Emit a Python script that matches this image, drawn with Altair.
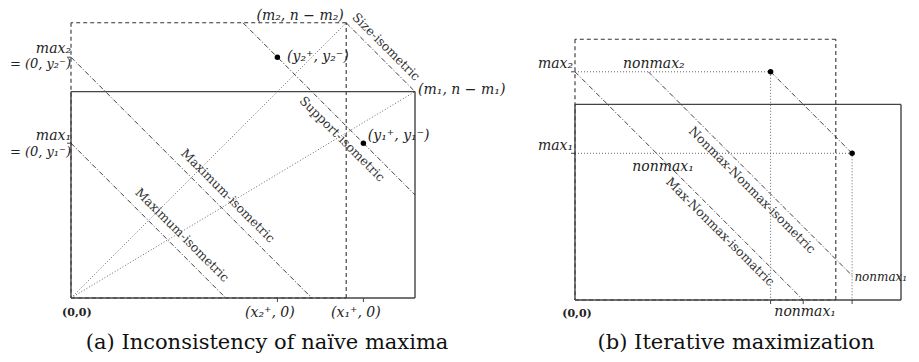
import altair as alt
import pandas as pd

# ---------------- values (diagram units) ----------------
N = 16                      # n
M1, M2 = 10, 8              # corners (m1, n-m1) and (m2, n-m2)
Y2 = (6, 7)                 # (y2+, y2-)
Y1 = (8.5, 4.5)             # (y1+, y1-)
SUPPORT_START = (5, 8)      # support-isometric meets top of dashed box
SUPPORT_END = (10, 3)       # ... and right side of solid box
NONMAX2_START = (2.25, 7)   # Nonmax-Nonmax-isometric start
NONMAX1_END = (8.5, 0.75)   # Nonmax-Nonmax-isometric end

# ---------------- layout (pixels) ----------------
W_A, W_B, H = 452, 451, 346
UNIT_A, OX_A, OY_A = 34.4, 63, 290
UNIT_B, OX_B, OY_B = 32.6, 115, 292
TICK = 4  # px

FONT = "DejaVu Serif"


def rect(w, h, kind):
    return [(0, 0, w, 0, kind), (w, 0, w, h, kind), (w, h, 0, h, kind), (0, h, 0, 0, kind)]


def ticks(xs_bottom, ys_left, unit):
    t = TICK / unit
    out = [(x, 0, x, -t, "tick") for x in xs_bottom]
    out += [(0, y, -t, y, "tick") for y in ys_left]
    return out


# panel (a) segments
seg_a = []
seg_a += [(0, 0, M2, N - M2, "dotted"), (0, 0, M1, N - M1, "dotted")]
seg_a += rect(M2, N - M2, "dashed")
seg_a += rect(M1, N - M1, "solid")
seg_a += [
    (M2, N - M2, M1, N - M1, "dashdot"),
    (SUPPORT_START[0], SUPPORT_START[1], SUPPORT_END[0], SUPPORT_END[1], "dashdot"),
    (0, Y2[1], Y2[1], 0, "dashdot"),
    (0, Y1[1], Y1[1], 0, "dashdot"),
]
seg_a += ticks([Y2[0], Y1[0]], [Y2[1], Y1[1]], UNIT_A)

# panel (b) segments
seg_b = []
seg_b += [
    (0, Y2[1], Y2[0], Y2[1], "dotted"),
    (Y2[0], Y2[1], Y2[0], 0, "dotted"),
    (0, Y1[1], Y1[0], Y1[1], "dotted"),
    (Y1[0], Y1[1], Y1[0], 0, "dotted"),
]
seg_b += rect(M2, N - M2, "dashed")
seg_b += rect(M1, N - M1, "solid")
seg_b += [
    (0, Y2[1], Y2[1], 0, "dashdot"),
    (NONMAX2_START[0], NONMAX2_START[1], NONMAX1_END[0], NONMAX1_END[1], "dashdot"),
    (Y2[0], Y2[1], Y1[0], Y1[1], "dashdot"),
]
seg_b += ticks([Y2[0], Y2[1], Y1[0]], [Y2[1], Y1[1]], UNIT_B)

dots = [Y2, Y1]

# labels: (text, x, y, style, align, angle)
labels_a = [
    ("(m₂, n − m₂)", 6.66, 8.20, "math", "center", 0),
    ("(m₁, n − m₁)", 10.09, 6.05, "math", "left", 0),
    ("(y₂⁺, y₂⁻)", 6.28, 7.0, "math", "left", 0),
    ("(y₁⁺, y₁⁻)", 8.63, 4.71, "math", "left", 0),
    ("max₂", 0.0, 7.25, "math", "right", 0),
    ("= (0, y₂⁻)", 0.0, 6.79, "eq", "right", 0),
    ("max₁", 0.0, 4.72, "math", "right", 0),
    ("= (0, y₁⁻)", 0.0, 4.24, "eq", "right", 0),
    ("(0,0)", 0.17, -0.44, "bold", "center", 0),
    ("(x₂⁺, 0)", 5.78, -0.44, "math", "center", 0),
    ("(x₁⁺, 0)", 8.28, -0.44, "math", "center", 0),
    ("Size-isometric", 9.16, 7.30, "label", "center", 45),
    ("Support-isometric", 7.88, 4.62, "label", "center", 45),
    ("Maximum-isometric", 4.56, 2.97, "label", "center", 45),
    ("Maximum-isometric", 3.23, 1.83, "label", "center", 45),
    ("(a) Inconsistency of naïve maxima", 5.70, -1.48, "caption", "center", 0),
]
labels_b = [
    ("max₂", -0.06, 7.23, "math", "right", 0),
    ("max₁", -0.06, 4.71, "math", "right", 0),
    ("nonmax₂", 2.42, 7.23, "math", "center", 0),
    ("nonmax₁", 2.70, 4.08, "math", "center", 0),
    ("nonmax₁", 8.57, 0.71, "mathsm", "left", 0),
    ("nonmax₁", 7.06, -0.36, "math", "center", 0),
    ("(0,0)", 0.06, -0.43, "bold", "center", 0),
    ("Max-Nonmax-isomatric", 4.45, 2.09, "label", "center", 45),
    ("Nonmax-Nonmax-isometric", 5.43, 3.37, "label", "center", 45),
    ("(b) Iterative maximization", 4.94, -1.50, "caption", "center", 0),
]

SEG_STYLES = {
    "dotted": dict(stroke="#555", strokeWidth=0.9, strokeDash=[1, 2]),
    "dashed": dict(stroke="#333", strokeWidth=1.1, strokeDash=[4, 3]),
    "solid": dict(stroke="#444", strokeWidth=1.4),
    "dashdot": dict(stroke="#111", strokeWidth=0.8, strokeDash=[5, 2, 1, 2]),
    "tick": dict(stroke="#333", strokeWidth=0.9),
}
TEXT_STYLES = {
    "math": dict(font=FONT, fontSize=14, fontStyle="italic", color="#222", baseline="middle"),
    "mathsm": dict(font=FONT, fontSize=12, fontStyle="italic", color="#222", baseline="middle"),
    "eq": dict(font=FONT, fontSize=13, fontStyle="italic", color="#222", baseline="middle"),
    "bold": dict(font=FONT, fontSize=11, fontWeight="bold", color="#222", baseline="middle"),
    "label": dict(font=FONT, fontSize=12.5, color="#333", baseline="middle"),
    "caption": dict(font=FONT, fontSize=21, color="#111", baseline="alphabetic"),
}


def panel(segs, labels, unit, ox, oy, w, h):
    xs = alt.Scale(domain=[-ox / unit, (w - ox) / unit], nice=False, zero=False)
    ys = alt.Scale(domain=[-(h - oy) / unit, oy / unit], nice=False, zero=False)
    X = alt.X("x:Q", scale=xs, axis=None)
    Y = alt.Y("y:Q", scale=ys, axis=None)
    df = pd.DataFrame(segs, columns=["x", "y", "x2", "y2", "kind"])
    layers = []
    for kind, props in SEG_STYLES.items():
        d = df[df.kind == kind]
        layers.append(
            alt.Chart(d).mark_rule(**props).encode(x=X, y=Y, x2="x2:Q", y2="y2:Q")
        )
    ddf = pd.DataFrame(dots, columns=["x", "y"])
    layers.append(alt.Chart(ddf).mark_circle(size=30, color="black", opacity=1).encode(x=X, y=Y))
    for text, x, y, style, align, angle in labels:
        tdf = pd.DataFrame({"x": [x], "y": [y], "t": [text]})
        kw = dict(TEXT_STYLES[style])
        kw.update(align=align)
        if angle:
            kw["angle"] = angle
        layers.append(alt.Chart(tdf).mark_text(**kw).encode(x=X, y=Y, text="t:N"))
    return alt.layer(*layers).properties(width=w, height=h)


pa = panel(seg_a, labels_a, UNIT_A, OX_A, OY_A, W_A, H)
pb = panel(seg_b, labels_b, UNIT_B, OX_B, OY_B, W_B, H)

chart = (
    alt.hconcat(pa, pb, spacing=0, bounds="flush")
    .properties(padding=0)
    .configure_view(stroke=None)
)
chart.save("out.html", embed_options={"renderer": "svg", "actions": False})
